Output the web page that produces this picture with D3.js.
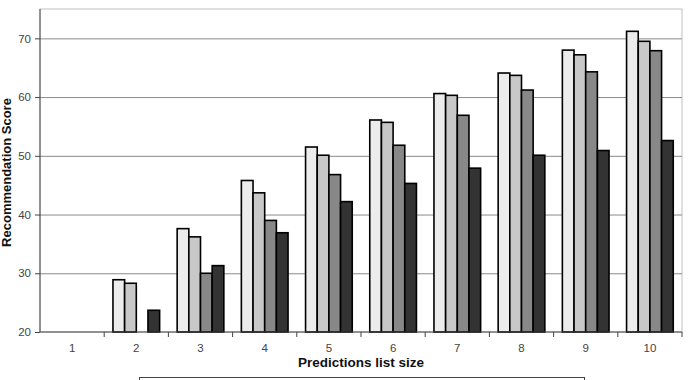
<!DOCTYPE html>
<html>
<head>
<meta charset="utf-8">
<script src="https://d3js.org/d3.v7.min.js"></script>
<style>
  body { margin: 0; background: #fff; }
  svg { font-family: "Liberation Sans", Arial, sans-serif; }
  .grids line { stroke: #8a8a8a; }
  .grids .domain { stroke: none; }
  .axis text { fill: #444; font-size: 11.5px; }
</style>
</head>
<body>
<svg id="plot1" width="692" height="380"></svg>
<script>
  // categories and series values
  const listSizes = ['1', '2', '3', '4', '5', '6', '7', '8', '9', '10'];
  const seriesNames = ['s1', 's2', 's3', 's4'];
  const series1 = [null, 28.9, 37.6, 45.8, 51.5, 56.1, 60.6, 64.1, 68.0, 71.2];
  const series2 = [null, 28.3, 36.2, 43.7, 50.1, 55.7, 60.3, 63.7, 67.2, 69.5];
  const series3 = [null, null, 30.0, 39.0, 46.8, 51.8, 56.9, 61.2, 64.3, 67.9];
  const series4 = [null, 23.7, 31.3, 36.9, 42.2, 45.3, 47.9, 50.1, 50.9, 52.6];
  const yTicks = [20, 30, 40, 50, 60, 70];

  const fills = ['#ececec', '#c8c8c8', '#888888', '#333333'];
  const margin = {left: 40, top: 9, right: 10, bottom: 48};

  const svg = d3.select('svg#plot1');
  const width = +svg.attr('width'), height = +svg.attr('height');
  const innerW = width - margin.left - margin.right;
  const innerH = height - margin.top - margin.bottom;

  const x = d3.scaleBand().domain(listSizes).range([0, innerW])
    .paddingInner(0.273).paddingOuter(0.1365);
  const bandX = d3.scaleBand().domain(listSizes).range([0, innerW]);
  const xs = d3.scaleBand().domain(seriesNames).range([0, x.bandwidth()]);
  const y = d3.scaleLinear().domain([20, 75]).range([innerH, 0]);

  const g = svg.append('g').attr('transform', `translate(${margin.left},${margin.top})`);

  // plot frame (top/right light)
  g.append('rect').attr('x', 0).attr('y', 0).attr('width', innerW).attr('height', innerH)
    .attr('fill', 'none').attr('stroke', '#c0c0c0');

  // gridlines
  g.append('g').attr('class', 'grids')
    .call(d3.axisLeft(y).tickValues(yTicks.slice(1)).tickFormat('').tickSize(-innerW));

  // bars
  const table = [];
  [series1, series2, series3, series4].forEach((vals, si) => {
    vals.forEach((v, ci) => {
      if (v != null) table.push({cat: listSizes[ci], s: seriesNames[si], v: v, i: si});
    });
  });
  g.selectAll('rect.bar').data(table).join('rect')
    .attr('class', 'bar')
    .attr('x', d => x(d.cat) + xs(d.s))
    .attr('width', xs.bandwidth())
    .attr('y', d => y(d.v))
    .attr('height', d => y(20) - y(d.v))
    .attr('fill', d => fills[d.i])
    .attr('stroke', '#000')
    .attr('stroke-width', 1.6);

  // y axis
  const yAxis = g.append('g').attr('class', 'axis')
    .call(d3.axisLeft(y).tickValues(yTicks).tickSize(5).tickPadding(4));
  yAxis.selectAll('line, path').attr('stroke', '#444');
  yAxis.select('.domain').attr('d', `M0,${innerH}V0`);

  // x axis: ticks at band boundaries, labels centred
  const xAxis = g.append('g').attr('class', 'axis').attr('transform', `translate(0,${innerH})`);
  xAxis.append('line').attr('x1', 0).attr('x2', innerW).attr('stroke', '#444');
  xAxis.selectAll('line.tk').data(listSizes.slice(1)).join('line').attr('class', 'tk')
    .attr('x1', d => bandX(d)).attr('x2', d => bandX(d)).attr('y1', 0).attr('y2', 5)
    .attr('stroke', '#444');
  xAxis.append('line').attr('x1', innerW).attr('x2', innerW).attr('y1', 0).attr('y2', 5).attr('stroke', '#444');
  xAxis.selectAll('text').data(listSizes).join('text')
    .attr('x', d => bandX(d) + bandX.bandwidth() / 2)
    .attr('y', 20)
    .attr('text-anchor', 'middle')
    .text(d => d);

  // axis titles
  svg.append('text')
    .attr('x', margin.left + innerW / 2).attr('y', 367)
    .attr('text-anchor', 'middle').attr('font-weight', 'bold').attr('font-size', 13.5)
    .attr('fill', '#111')
    .text('Predictions list size');
  svg.append('text')
    .attr('transform', `translate(11,${margin.top + innerH / 2 + 2}) rotate(-90)`)
    .attr('text-anchor', 'middle').attr('font-weight', 'bold').attr('font-size', 13)
    .attr('fill', '#111')
    .text('Recommendation Score');

  // legend box (cut off at the bottom)
  svg.append('rect').attr('x', 139.5).attr('y', 377.5).attr('width', 445).attr('height', 20)
    .attr('fill', 'none').attr('stroke', '#444');
</script>
</body>
</html>
